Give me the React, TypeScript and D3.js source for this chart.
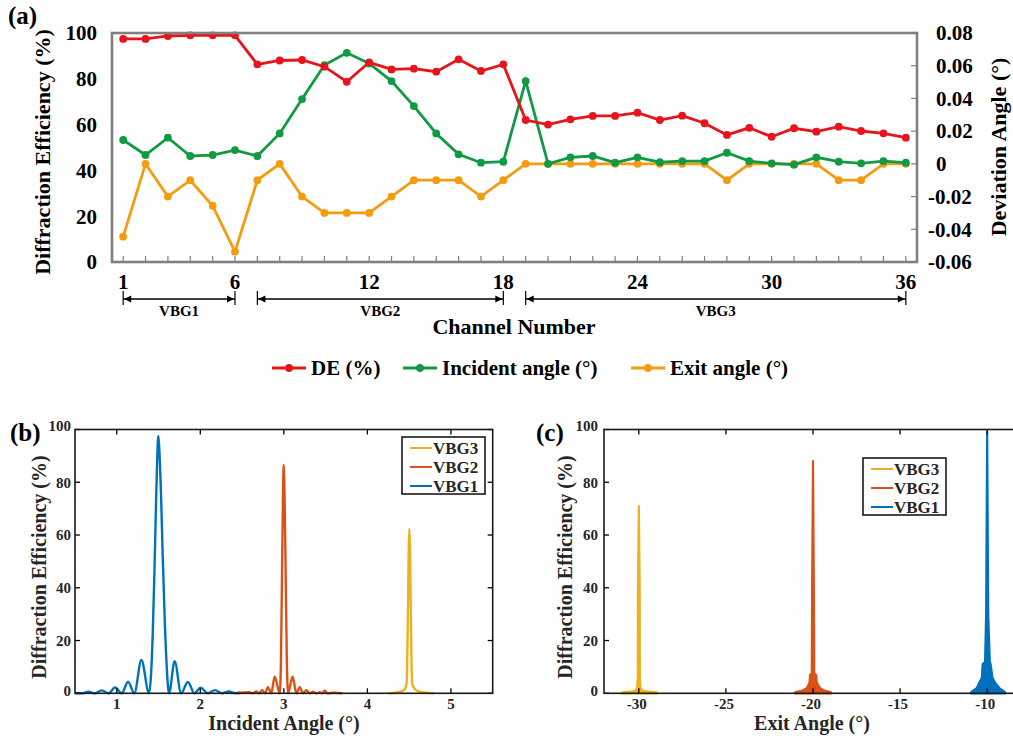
import React from "react";
import * as d3 from "d3";

// ---- panel (a) data ----
const channels = [1, 2, 3, 4, 5, 6, 7, 8, 9, 10, 11, 12, 13, 14, 15, 16, 17, 18, 19, 20, 21, 22, 23, 24, 25, 26, 27, 28, 29, 30, 31, 32, 33, 34, 35, 36];
const deValues = [97.4, 97.4, 98.7, 99, 99, 99, 86.3, 88, 88.2, 85.3, 78.7, 87.2, 84.1, 84.4, 83.1, 88.5, 83.4, 86.3, 62, 60, 62.3, 63.8, 63.8, 65.2, 62, 63.9, 60.6, 55.5, 58.6, 54.7, 58.4, 56.9, 59.1, 57.2, 56.2, 54.3];
const incidentDev = [0.0146, 0.0054, 0.016, 0.0048, 0.0054, 0.0084, 0.0048, 0.0186, 0.0396, 0.0604, 0.0679, 0.0614, 0.0506, 0.0353, 0.0186, 0.0058, 0.0007, 0.0013, 0.0506, 0.0, 0.004, 0.0048, 0.0007, 0.004, 0.001, 0.0017, 0.0017, 0.0068, 0.0017, 0.0003, -0.0005, 0.004, 0.0013, 0.0003, 0.0017, 0.0007];
const exitDev = [-0.0445, 0, -0.02, -0.01, -0.0256, -0.0537, -0.01, 0, -0.02, -0.03, -0.03, -0.03, -0.02, -0.01, -0.01, -0.01, -0.02, -0.01, 0, 0, 0, 0, 0, 0, 0, 0, 0, -0.01, 0, 0, 0, 0, -0.01, -0.01, 0, 0];
const xTicksA = [1, 6, 12, 18, 24, 30, 36];
const yTicksLeft = [0, 20, 40, 60, 80, 100];
const yTicksRight = [-0.06, -0.04, -0.02, 0, 0.02, 0.04, 0.06, 0.08];
const groups = [
  { name: "VBG1", from: 1, to: 6 },
  { name: "VBG2", from: 7, to: 18 },
  { name: "VBG3", from: 19, to: 36 },
];

// ---- panel (b) data: incident angle responses ----
const incVBG1 = [[0.5, 0], [0.58, 0], [0.66, 0.6], [0.74, 0], [0.82, 1.1], [0.9, 0], [0.98, 2.2], [1.06, 0], [1.135, 4.4], [1.21, 0], [1.295, 12.6], [1.386, 0], [1.41, 7], [1.43, 22], [1.45, 45], [1.47, 72], [1.485, 90], [1.498, 97.6], [1.51, 92], [1.53, 75], [1.55, 52], [1.575, 27], [1.6, 9], [1.625, 0], [1.693, 12.2], [1.77, 0], [1.851, 4.3], [1.93, 0], [2.003, 2.1], [2.09, 0], [2.175, 1.2], [2.26, 0], [2.34, 0.7], [2.42, 0], [2.48, 0.3]];
const incVBG2 = [[2.45, 0], [2.52, 0.3], [2.59, 0.4], [2.63, 0], [2.67, 0.7], [2.705, 0], [2.74, 1.2], [2.775, 0], [2.81, 2.3], [2.85, 0], [2.89, 6.3], [2.951, 0], [2.965, 12], [2.98, 50], [2.99, 76], [2.998, 86.6], [3.008, 76], [3.02, 50], [3.035, 14], [3.05, 0], [3.105, 6.3], [3.15, 0], [3.19, 2.3], [3.23, 0], [3.27, 1.2], [3.31, 0], [3.35, 0.6], [3.39, 0], [3.43, 0.4], [3.46, 0], [3.49, 1.1], [3.52, 0], [3.6, 0.2], [3.7, 0]];
const incVBG3 = [[4.25, 0], [4.35, 0.3], [4.42, 0.8], [4.455, 2], [4.47, 4], [4.485, 30], [4.495, 55], [4.502, 62.4], [4.51, 55], [4.52, 30], [4.535, 4], [4.55, 2.5], [4.6, 0.8], [4.68, 0.3], [4.8, 0]];
const xTicksB = [1, 2, 3, 4, 5];

// ---- panel (c) data: exit angle responses ----
const exitVBG3 = [[-31, 0], [-30.9, 0.4], [-30.5, 0.6], [-30.2, 0.9], [-30.1, 2], [-30.06, 6], [-30.05, 40], [-30, 71], [-29.95, 40], [-29.94, 6], [-29.9, 2], [-29.8, 0.9], [-29.4, 0.6], [-29.0, 0.4], [-28.95, 0]];
const exitVBG2 = [[-21.05, 0], [-21, 0.5], [-20.6, 1], [-20.35, 2], [-20.2, 4], [-20.17, 7], [-20.07, 7.5], [-20.05, 40], [-20, 88], [-19.95, 40], [-19.93, 7.5], [-19.82, 7], [-19.78, 4], [-19.6, 2], [-19.35, 1], [-19.0, 0.5], [-18.95, 0]];
const exitVBG1 = [[-10.95, 0], [-10.9, 0.5], [-10.6, 2], [-10.45, 4], [-10.3, 6], [-10.26, 11], [-10.12, 12], [-10.06, 30], [-10, 99], [-9.94, 30], [-9.85, 12], [-9.8, 11], [-9.7, 6], [-9.55, 4], [-9.3, 2], [-9.0, 0.5], [-8.95, 0]];
const xTicksC = [-30, -25, -20, -15, -10];
const yTicksBC = [0, 20, 40, 60, 80, 100];

const RED = "#e8141c";
const GREEN = "#109a43";
const ORANGE = "#f39c12";
const C1 = "#0072bd";
const C2 = "#d95319";
const C3 = "#edb120";
const FONT = "'Liberation Serif', 'Times New Roman', serif";

const W = 1013;
const H = 742;

function PanelA() {
  const x = d3.scaleLinear().domain([0.5, 36.5]).range([112, 917]);
  const yL = d3.scaleLinear().domain([0, 100]).range([262, 33]);
  const yR = d3.scaleLinear().domain([-0.06, 0.08]).range([262, 33]);

  const lineL = d3.line<number>().x((_, i) => x(channels[i])).y((d) => yL(d));
  const lineR = d3.line<number>().x((_, i) => x(channels[i])).y((d) => yR(d));

  // drawn back to front: exit, incident, DE
  const series = [
    { vals: exitDev, color: ORANGE, line: lineR, y: yR },
    { vals: incidentDev, color: GREEN, line: lineR, y: yR },
    { vals: deValues, color: RED, line: lineL, y: yL },
  ];

  const legend = [
    { label: "DE (%)", color: RED, x0: 272 },
    { label: "Incident angle (°)", color: GREEN, x0: 403 },
    { label: "Exit angle (°)", color: ORANGE, x0: 631 },
  ];

  return (
    <g fontFamily={FONT} fontWeight="bold">
      <text x={8} y={24} fontSize={25}>(a)</text>
      {channels.map((c) => (
        <line key={"t" + c} x1={x(c)} x2={x(c)} y1={262} y2={256} stroke="#808080" strokeWidth={1.2} />
      ))}
      {yTicksRight.map((v) => (
        <line key={"r" + v} x1={917} x2={911} y1={yR(v)} y2={yR(v)} stroke="#808080" strokeWidth={1.2} />
      ))}
      {series.map((s, k) => (
        <g key={k}>
          <path d={s.line(s.vals) || ""} fill="none" stroke={s.color} strokeWidth={2.8} />
          {s.vals.map((v, i) => (
            <circle key={i} cx={x(channels[i])} cy={s.y(v)} r={3.9} fill={s.color} />
          ))}
        </g>
      ))}
      <rect x={112} y={33} width={805} height={229} fill="none" stroke="#808080" strokeWidth={2.6} />
      {yTicksLeft.map((v) => (
        <text key={v} x={97} y={yL(v)} dy="0.35em" textAnchor="end" fontSize={21}>{v}</text>
      ))}
      {yTicksRight.map((v) => (
        <text key={v} x={v < 0 ? 928 : 936} y={yR(v)} dy="0.35em" fontSize={21}>
          {v === 0 ? "0" : (v < 0 ? "-" : "") + Math.abs(v).toFixed(2)}
        </text>
      ))}
      {xTicksA.map((c) => (
        <text key={c} x={x(c)} y={289} textAnchor="middle" fontSize={21}>{c}</text>
      ))}
      <text transform={`translate(50,152) rotate(-90)`} textAnchor="middle" fontSize={22}>
        Diffraction Efficiency (%)
      </text>
      <text transform={`translate(1006,147) rotate(-90)`} textAnchor="middle" fontSize={22}>
        Deviation Angle (°)
      </text>
      {groups.map((g) => {
        const a = x(g.from);
        const b = x(g.to);
        const yy = 299;
        return (
          <g key={g.name}>
            <line x1={a} x2={a} y1={291} y2={305} stroke="#000" strokeWidth={1.2} />
            <line x1={b} x2={b} y1={291} y2={305} stroke="#000" strokeWidth={1.2} />
            <line x1={a} x2={b} y1={yy} y2={yy} stroke="#000" strokeWidth={1.4} />
            <path d={`M${a + 1},${yy} L${a + 8},${yy - 3.5} L${a + 8},${yy + 3.5} Z`} fill="#000" />
            <path d={`M${b - 1},${yy} L${b - 8},${yy - 3.5} L${b - 8},${yy + 3.5} Z`} fill="#000" />
            <text x={(a + b) / 2} y={316} textAnchor="middle" fontSize={15}>{g.name}</text>
          </g>
        );
      })}
      <text x={514} y={334} textAnchor="middle" fontSize={22}>Channel Number</text>
      {legend.map((l) => (
        <g key={l.label}>
          <line x1={l.x0} x2={l.x0 + 34} y1={368} y2={368} stroke={l.color} strokeWidth={2.8} />
          <circle cx={l.x0 + 17} cy={368} r={3.9} fill={l.color} />
          <text x={l.x0 + 39} y={375} fontSize={21}>{l.label}</text>
        </g>
      ))}
    </g>
  );
}

type Pt = number[];

function Frame({ x, y, xTicks, left, right, top, bottom, showRight }: any) {
  return (
    <g>
      {xTicks.map((t: number) => (
        <g key={t}>
          <line x1={x(t)} x2={x(t)} y1={bottom} y2={bottom - 5} stroke="#000" strokeWidth={1.3} />
          <line x1={x(t)} x2={x(t)} y1={top} y2={top + 5} stroke="#000" strokeWidth={1.3} />
        </g>
      ))}
      {yTicksBC.map((t) => (
        <g key={t}>
          <line x1={left} x2={left + 5} y1={y(t)} y2={y(t)} stroke="#000" strokeWidth={1.3} />
          {showRight && <line x1={right} x2={right - 5} y1={y(t)} y2={y(t)} stroke="#000" strokeWidth={1.3} />}
        </g>
      ))}
      <rect x={left} y={top} width={right - left} height={bottom - top} fill="none" stroke="#1a1a1a" strokeWidth={1.6} />
    </g>
  );
}

function LegendBox({ x0, y0, w, h, rows }: any) {
  return (
    <g>
      <rect x={x0} y={y0} width={w} height={h} fill="#fff" stroke="#1a1a1a" strokeWidth={1.6} />
      {rows.map((r: any, i: number) => (
        <g key={r.label}>
          <line x1={x0 + 8} x2={x0 + 30} y1={y0 + 11 + i * 19} y2={y0 + 11 + i * 19} stroke={r.color} strokeWidth={2} />
          <text x={x0 + 31} y={y0 + 11 + i * 19} dy="0.35em" fontSize={17} fill="#262626">{r.label}</text>
        </g>
      ))}
    </g>
  );
}

function PanelB() {
  const left = 75, right = 492.7, top = 429.5, bottom = 693.3;
  const x = d3.scaleLinear().domain([0.5, 5.5]).range([left, right]);
  const y = d3.scaleLinear().domain([0, 100]).range([bottom, top]);
  const line = d3.line<Pt>().x((d) => x(d[0])).y((d) => y(d[1])).curve(d3.curveMonotoneX);
  const curves = [
    { data: incVBG1, color: C1 },
    { data: incVBG2, color: C2 },
    { data: incVBG3, color: C3 },
  ];
  return (
    <g fontFamily={FONT} fontWeight="bold">
      <text x={10} y={441} fontSize={25}>(b)</text>
      {curves.map((c, i) => (
        <path key={i} d={line(c.data) || ""} fill="none" stroke={c.color} strokeWidth={2.4} />
      ))}
      <Frame x={x} y={y} xTicks={xTicksB} left={left} right={right} top={top} bottom={bottom} showRight />
      {yTicksBC.map((t) => (
        <text key={t} x={71} y={y(t) + (t === 0 ? -3 : t === 100 ? -4 : 0)} dy="0.35em" textAnchor="end" fontSize={15} fill="#262626">{t}</text>
      ))}
      {xTicksB.map((t) => (
        <text key={t} x={x(t)} y={709} textAnchor="middle" fontSize={15} fill="#262626">{t}</text>
      ))}
      <text transform="translate(46,567) rotate(-90)" textAnchor="middle" fontSize={20} fill="#262626">Diffraction Efficiency (%)</text>
      <text x={284} y={730} textAnchor="middle" fontSize={20} fill="#262626">Incident Angle (°)</text>
      <LegendBox x0={402} y0={437} w={83} h={57} rows={[
        { label: "VBG3", color: C3 },
        { label: "VBG2", color: C2 },
        { label: "VBG1", color: C1 },
      ]} />
    </g>
  );
}

function PanelC() {
  const left = 604, right = 1022, top = 429.5, bottom = 693.3;
  const x = d3.scaleLinear().domain([-32, -8]).range([left, right]);
  const y = d3.scaleLinear().domain([0, 100]).range([bottom, top]);
  const area = d3.area<Pt>().x((d) => x(d[0])).y0(y(0)).y1((d) => y(d[1]));
  const curves = [
    { data: exitVBG3, color: C3 },
    { data: exitVBG2, color: C2 },
    { data: exitVBG1, color: C1 },
  ];
  return (
    <g fontFamily={FONT} fontWeight="bold">
      <text x={536} y={441} fontSize={25}>(c)</text>
      {curves.map((c, i) => (
        <path key={i} d={area(c.data) || ""} fill={c.color} stroke={c.color} strokeWidth={2.2} strokeLinejoin="round" />
      ))}
      <Frame x={x} y={y} xTicks={xTicksC} left={left} right={right} top={top} bottom={bottom} showRight={false} />
      {yTicksBC.map((t) => (
        <text key={t} x={598} y={y(t) + (t === 0 ? -3 : t === 100 ? -4 : 0)} dy="0.35em" textAnchor="end" fontSize={15} fill="#262626">{t}</text>
      ))}
      {xTicksC.map((t) => (
        <text key={t} x={x(t) - 2} y={709} textAnchor="middle" fontSize={15} fill="#262626">{t}</text>
      ))}
      <text transform="translate(572,567) rotate(-90)" textAnchor="middle" fontSize={20} fill="#262626">Diffraction Efficiency (%)</text>
      <text x={812} y={730} textAnchor="middle" fontSize={20} fill="#262626">Exit Angle (°)</text>
      <LegendBox x0={863} y0={458} w={83} h={57} rows={[
        { label: "VBG3", color: C3 },
        { label: "VBG2", color: C2 },
        { label: "VBG1", color: C1 },
      ]} />
    </g>
  );
}

export default function App() {
  return (
    <svg width={W} height={H} style={{ position: "absolute", left: 0, top: 0, background: "#fff" }}>
      <rect width={W} height={H} fill="#fff" />
      <PanelA />
      <PanelB />
      <PanelC />
    </svg>
  );
}
